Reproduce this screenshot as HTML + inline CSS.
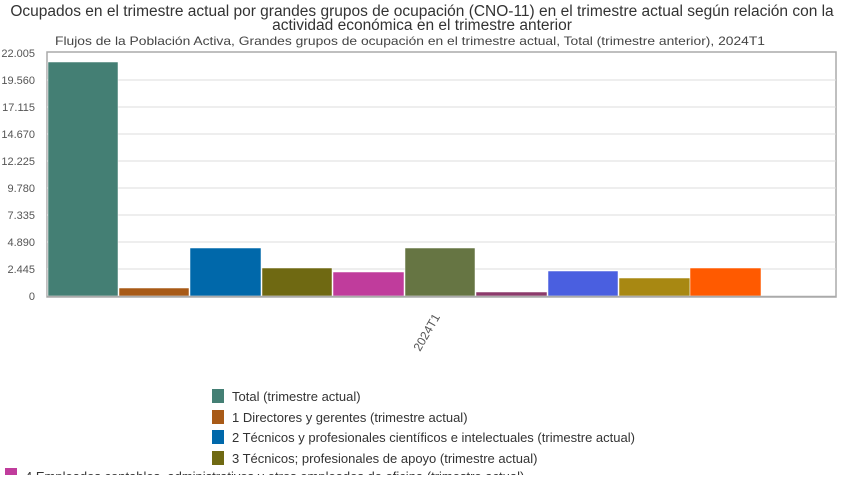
<!DOCTYPE html>
<html><head><meta charset="utf-8"><style>
body{margin:0;width:845px;height:475px;overflow:hidden;background:#fff;font-family:"Liberation Sans",sans-serif;}
</style></head><body>
<svg width="845" height="475" xmlns="http://www.w3.org/2000/svg" font-family="Liberation Sans, sans-serif">
<text x="422" y="16" font-size="15.5" text-anchor="middle" fill="#333">Ocupados en el trimestre actual por grandes grupos de ocupación (CNO-11) en el trimestre actual según relación con la</text>
<text x="422" y="30" font-size="15.5" text-anchor="middle" fill="#333">actividad económica en el trimestre anterior</text>
<text x="410" y="45" font-size="12" text-anchor="middle" fill="#444" textLength="710" lengthAdjust="spacingAndGlyphs">Flujos de la Población Activa, Grandes grupos de ocupación en el trimestre actual, Total (trimestre anterior), 2024T1</text>
<rect x="47" y="52" width="789" height="245" fill="#fff" stroke="#aaa" stroke-width="1.5"/>
<g stroke="#ddd" stroke-width="1">
<line x1="47" x2="836" y1="80" y2="80"/><line x1="47" x2="836" y1="107" y2="107"/><line x1="47" x2="836" y1="134" y2="134"/><line x1="47" x2="836" y1="161" y2="161"/><line x1="47" x2="836" y1="188" y2="188"/><line x1="47" x2="836" y1="215" y2="215"/><line x1="47" x2="836" y1="242" y2="242"/><line x1="47" x2="836" y1="269" y2="269"/>
</g>
<g font-size="11" fill="#555" text-anchor="end">
<text x="35" y="57">22.005</text><text x="35" y="84">19.560</text><text x="35" y="111">17.115</text><text x="35" y="138">14.670</text><text x="35" y="165">12.225</text><text x="35" y="192">9.780</text><text x="35" y="219">7.335</text><text x="35" y="246">4.890</text><text x="35" y="273">2.445</text><text x="35" y="300">0</text>
</g>
<g stroke="#fff" stroke-width="0.5">
<rect x="48" y="62" width="70" height="234" fill="#447f74"/>
<rect x="119" y="288" width="70" height="8" fill="#a85a17"/>
<rect x="190" y="248" width="71" height="48" fill="#0068aa"/>
<rect x="262" y="268" width="70" height="28" fill="#6f6912"/>
<rect x="333" y="272" width="71" height="24" fill="#c03c9c"/>
<rect x="405" y="248" width="70" height="48" fill="#667543"/>
<rect x="476" y="292" width="71" height="4" fill="#8c3a6b"/>
<rect x="548" y="271" width="70" height="25" fill="#4a5fe0"/>
<rect x="619" y="278" width="71" height="18" fill="#a88812"/>
<rect x="690" y="268" width="71" height="28" fill="#ff5a00"/>
</g>
<line x1="47" x2="836" y1="296.5" y2="296.5" stroke="#aaa" stroke-width="1.5"/>
<text x="0" y="0" font-size="12" fill="#555" transform="translate(420,352) rotate(-60)">2024T1</text>
<g font-size="13" fill="#333">
<rect x="212" y="389" width="12" height="14" fill="#447f74"/><text x="232" y="401">Total (trimestre actual)</text>
<rect x="212" y="410" width="12" height="14" fill="#a85a17"/><text x="232" y="422">1 Directores y gerentes (trimestre actual)</text>
<rect x="212" y="430" width="12" height="14" fill="#0068aa"/><text x="232" y="442">2 Técnicos y profesionales científicos e intelectuales (trimestre actual)</text>
<rect x="212" y="451" width="12" height="14" fill="#6f6912"/><text x="232" y="463">3 Técnicos; profesionales de apoyo (trimestre actual)</text>
<rect x="5" y="468" width="12" height="14" fill="#c03c9c"/><text x="25" y="481">4 Empleados contables, administrativos y otros empleados de oficina (trimestre actual)</text>
</g>
</svg>
</body></html>
